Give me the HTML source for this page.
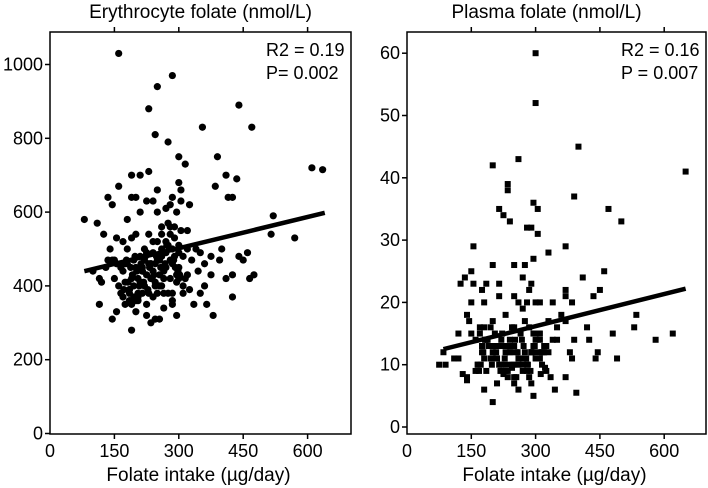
<!DOCTYPE html>
<html><head><meta charset="utf-8"><style>
html,body{margin:0;padding:0;background:#fff;}
svg{display:block;font-family:"Liberation Sans",Arial,sans-serif;}
</style></head><body>
<svg id="chart" width="708" height="488" viewBox="0 0 708 488"></svg>
<script>
// Left panel data: erythrocyte folate vs intake
const leftX = [160,250,285,230,245,275,355,440,470,390,300,315,230,210,190,160,135,145,190,200,250,225,240,285,300,305,305,325,295,250,210,410,435,385,415,425,610,635,520,515,570,80,110,125,180,280,270,
115,145,190,155,200,225,235,245,255,295,285,265,335,365,380,350,425,410,425,465,475,450,460,440,400,395,375,375,360,345,330,320,115,120,140,155,145,160,165,175,185,205,215,230,240,265,285,310,325,170,180,190,200,210,220,230,240,250,260,270,280,290,260,275,285,300,310,300,295,280,270,255,245,235,225,215,205,195,185,175,165,155,170,190,200,230,250,260,270,280,290,300,320,240,220,210,320,180,300,310,260,250,340,350,360,
100,130,150,175,195,215,235,255,265,275,290,305,225,245,265,285,205,185,170,150,135,280,260,240,220,200,190,
172,182,192,202,212,222,232,242,252,262,272,282,292,302,178,188,198,208,218,228,238,248,258,268,278,288,298,185,205,225,245,265,285,195,215,235,255,275,295,315];
const leftY = [1030,940,970,880,810,790,830,890,830,750,750,730,710,700,700,670,640,620,640,640,660,630,630,640,680,660,630,620,600,600,600,700,690,670,640,640,720,715,590,540,530,580,570,540,580,620,610,
350,310,280,330,330,320,300,310,310,320,350,340,350,350,320,380,370,420,430,420,430,470,490,480,500,470,430,480,400,440,470,430,420,410,500,530,470,400,380,350,360,370,380,380,370,380,380,380,390,440,460,420,450,480,500,460,440,470,500,520,540,560,560,570,500,510,480,450,430,420,450,430,410,420,430,440,420,400,390,410,450,460,520,530,540,540,520,480,490,470,480,490,500,490,470,410,550,500,420,400,400,380,500,490,460,
440,450,470,460,470,450,460,470,490,510,530,550,490,460,440,460,380,390,370,420,470,560,540,520,400,360,350,
390,410,430,440,460,480,450,430,470,490,510,470,450,430,470,450,480,400,410,390,420,480,450,460,500,470,440,380,360,350,400,420,360,370,440,460,400,380,410,420];
const leftFit = [[80,440],[640,598]];
// Right panel data: plasma folate vs intake
const rightX = [300,300,400,260,200,390,235,235,295,305,215,225,240,470,500,280,290,305,330,370,295,155,150,135,125,155,175,185,200,215,250,270,275,290,285,410,460,450,435,340,370,370,385,150,180,260,280,300,310,215,250,535,530,650,580,620,480,490,440,445,425,420,390,395,345,295,290,250,260,210,180,200,140,130,140,140,145,120,90,75,85,110,120,350,360,370,380,385,370,335,325,
160,170,180,190,200,210,220,230,240,250,260,270,280,290,300,310,320,330,165,175,185,195,205,215,225,235,245,255,265,275,285,295,305,315,160,180,200,220,240,260,280,300,320,340,170,190,210,230,250,270,290,310,330,175,195,215,235,255,275,295,315,165,185,205,225,245,265,285,305,325,150,200,250,300,350,230,270,310,210,
168,178,188,198,208,218,228,238,248,258,268,278,288,298,308,318,172,182,192,202,212,222,232,242,252,262,272,282,292,302,312,322,225,245,265,285];
const rightY = [60,52,45,43,42,37,39,38,36,35,35,34,33,35,33,32,32,31,28,29,27,29,25,24,23,23,22,23,26,23,26,24,26,23,22,24,25,22,21,20,22,21,20,20,20,20,20,20,20,21,21,18,16,41,14,15,15,11,11,12,14,16,14,5.5,6,5,7,7,6,7,6,4,7.5,8.5,8,18,17,15,10,10,12,11,11,16,18,17,12,11,8,8,9,
14,15,16,13,12,11,10,12,14,13,11,9,10,12,14,15,13,12,10,12,14,16,15,13,9,8,10,12,15,17,16,13,11,10,9,11,13,14,12,10,9,11,12,14,16,13,11,9,8,10,12,14,17,13,11,10,9,8,12,15,12,10,9,11,13,16,11,8,12,13,15,17,16,15,14,18,19,
11,13,9,12,14,10,12,9,11,13,10,12,14,11,9,13,15,12,10,14,13,11,13,15,10,12,14,11,13,10,12,11,8.5,9.5,8.5,9.5];
const rightFit = [[85,12.5],[650,22.2]];

const ticksX = [0,150,300,450,600];
const leftTicksY = [0,200,400,600,800,1000];
const rightTicksY = [0,10,20,30,40,50,60];

const NS='http://www.w3.org/2000/svg';
const svg=document.getElementById('chart');
function mk(tag,attrs,parent){const e=document.createElementNS(NS,tag);for(const k in attrs)e.setAttribute(k,attrs[k]);(parent||svg).appendChild(e);return e;}

function panel(cfg){
  const g=mk('g',{});
  
  
  const sx=v=>cfg.x0+v*cfg.kx;
  const sy=v=>cfg.y0-v*cfg.ky;
  const box=mk('rect',{x:cfg.left,y:cfg.top,width:cfg.right-cfg.left,height:cfg.bottom-cfg.top,fill:'none',stroke:'#000','stroke-width':1.5},g);
  
  
  const title=mk('text',{x:(cfg.left+cfg.right)/2+cfg.tdx,y:18,'text-anchor':'middle','font-size':19},g);
  title.textContent=cfg.title;
  
  
  ticksX.forEach(t=>{
    const x=sx(t);
    if(t>0){mk('line',{x1:x,x2:x,y1:cfg.bottom,y2:cfg.bottom+5,stroke:'#000','stroke-width':1.5},g);
    mk('line',{x1:x,x2:x,y1:cfg.top,y2:cfg.top-5,stroke:'#000','stroke-width':1.5},g);}
    const tl=mk('text',{x:x,y:cfg.bottom+23,'text-anchor':'middle','font-size':18},g);
    tl.textContent=t;
    
    
  });
  cfg.ticksY.forEach(t=>{
    const y=sy(t);
    mk('line',{x1:cfg.left,x2:cfg.left-5,y1:y,y2:y,stroke:'#000','stroke-width':1.5},g);
    const tl=mk('text',{x:cfg.left-7,y:y+6,'text-anchor':'end','font-size':18},g);
    tl.textContent=t;
    
    
  });
  const xt=mk('text',{x:(cfg.left+cfg.right)/2-2,y:481,'text-anchor':'middle','font-size':19},g);
  xt.textContent='Folate intake (µg/day)';
  
  
  const s1=mk('text',{x:cfg.right-85,y:56,'font-size':18},g);s1.textContent=cfg.r2;
  
  
  const s2=mk('text',{x:cfg.right-85,y:79,'font-size':18},g);s2.textContent=cfg.p;
  
  
  const n=Math.min(cfg.xs.length,cfg.ys.length);
  for(let i=0;i<n;i++){
    const cx=sx(cfg.xs[i]),cy=sy(cfg.ys[i]);
    let m;
    if(cfg.square) m=mk('rect',{x:cx-3,y:cy-3,width:6,height:6,fill:'#000'},g);
    else m=mk('circle',{cx:cx,cy:cy,r:3.6,fill:'#000'},g);
    
    
  }
  const f=cfg.fit;
  const ln=mk('line',{x1:sx(f[0][0]),y1:sy(f[0][1]),x2:sx(f[1][0]),y2:sy(f[1][1]),stroke:'#000','stroke-width':4.5},g);
  
  
}
panel({name:'erythrocyte-panel',title:'Erythrocyte folate (nmol/L)',tdx:0,left:50,right:351,top:32,bottom:434,x0:50,kx:64.4/150,y0:433.5,ky:73.8/200,ticksY:leftTicksY,xs:leftX,ys:leftY,fit:leftFit,r2:'R2 = 0.19',p:'P= 0.002',square:false});
panel({name:'plasma-panel',title:'Plasma folate (nmol/L)',tdx:-10,left:407,right:706,top:32,bottom:434,x0:407,kx:64.3/150,y0:427,ky:62.3/10,ticksY:rightTicksY,xs:rightX,ys:rightY,fit:rightFit,r2:'R2 = 0.16',p:'P = 0.007',square:true});
</script>
</body></html>
